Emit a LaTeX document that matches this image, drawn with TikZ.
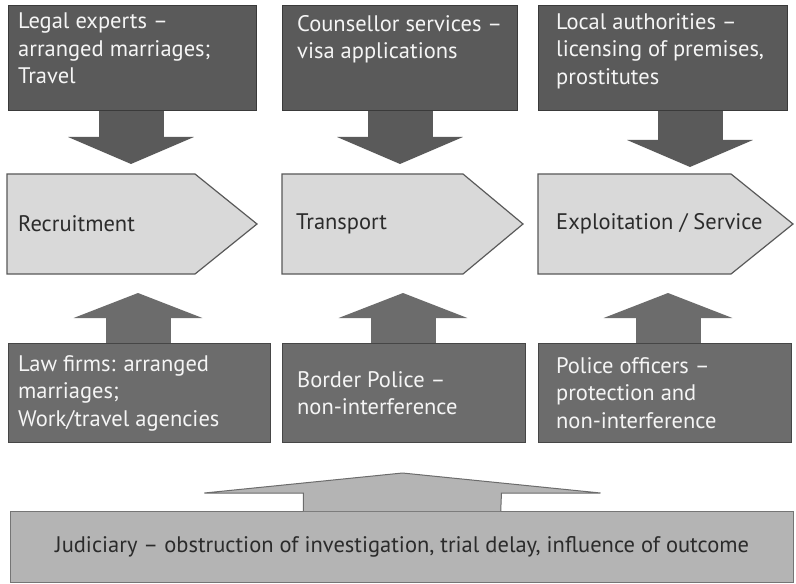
\documentclass[tikz,border=0pt]{standalone}
\usepackage{fontspec}
\setmainfont{PT Sans}
\usetikzlibrary{arrows.meta}

\definecolor{darkbox}{HTML}{5A5A5A}
\definecolor{midbox}{HTML}{6C6C6C}
\definecolor{stagefill}{HTML}{D9D9D9}
\definecolor{judfill}{HTML}{B4B4B4}
\definecolor{inktext}{HTML}{2B2B2B}

\newcommand{\boxfont}{\fontsize{22.5bp}{27.5bp}\selectfont}

\begin{document}
\begin{tikzpicture}[x=1bp, y=-1bp,
    box/.style={draw=#1!65!black, fill=#1, line width=1.2bp, inner sep=0pt, anchor=north west},
    stage/.style={draw=black!65, fill=stagefill, line width=1.2bp, line join=miter},
    whitetext/.style={text=white!96!black, align=left, inner sep=0pt, font=\boxfont},
    darktext/.style={text=inktext, align=left, inner sep=0pt, font=\boxfont},
    downarr/.style={darkbox, line width=65bp, -{Triangle[width=125bp, length=27bp]}},
    uparr/.style={midbox, line width=65bp, -{Triangle[width=128bp, length=25bp]}}
]
\useasboundingbox[fill=white] (0,0) rectangle (796,584);

% stages of the process
\draw[stage] (7,174) -- (195,174) -- (257,224) -- (195,274) -- (7,274) -- cycle;
\draw[stage] (282,174) -- (463,174) -- (523,224) -- (463,274) -- (282,274) -- cycle;
\draw[stage] (538,174) -- (731,174) -- (793,224) -- (731,274) -- (538,274) -- cycle;
\node[darktext, anchor=west] (recruit) at (18,224) {Recruitment};
\node[darktext, anchor=west] (transport) at (296,224) {Transport};
\node[darktext, anchor=west] (exploit) at (556,224) {Exploitation / Service};
\coordinate (recruitin) at (131,164);
\coordinate (transportin) at (400,164);
\coordinate (exploitin) at (690,167);
\coordinate (recruitout) at (138,293);
\coordinate (transportout) at (403,293);
\coordinate (exploitout) at (668,293);

% upper row
\node[box=darkbox, minimum width=248bp, minimum height=105bp] (legal) at (8,5) {};
\node[box=darkbox, minimum width=235bp, minimum height=105bp] (counsel) at (282,5) {};
\node[box=darkbox, minimum width=249bp, minimum height=105bp] (local) at (538,5) {};
\node[whitetext, anchor=north west] (legaltxt) at ([shift={(10,8)}]legal.north west)
    {Legal experts --\\arranged marriages;\\Travel};
\node[whitetext, anchor=north west] (counseltxt) at ([shift={(15,10)}]counsel.north west)
    {Counsellor services --\\visa applications};
\node[whitetext, anchor=north west] (localtxt) at ([shift={(18,8)}]local.north west)
    {Local authorities --\\licensing of premises,\\prostitutes};

\draw[downarr] (legal.south -| recruitin) -- (recruitin);
\draw[downarr] (counsel.south -| transportin) -- (transportin);
\draw[downarr] (local.south -| exploitin) -- (exploitin);

% lower row
\node[box=midbox, minimum width=262bp, minimum height=99bp] (lawfirms) at (8,343) {};
\node[box=midbox, minimum width=243bp, minimum height=99bp] (border) at (282,343) {};
\node[box=midbox, minimum width=253bp, minimum height=99bp] (police) at (538,343) {};
\node[whitetext, anchor=west] (lawfirmstxt) at ([xshift=10]lawfirms.west)
    {Law firms: arranged\\marriages;\\Work/travel agencies};
\node[whitetext, anchor=west] (bordertxt) at ([xshift=15]border.west)
    {Border Police --\\non-interference};
\node[whitetext, anchor=west] (policetxt) at ([xshift=18]police.west)
    {Police officers --\\protection and\\non-interference};

\draw[uparr] (lawfirms.north -| recruitout) -- (recruitout);
\draw[uparr] (border.north -| transportout) -- (transportout);
\draw[uparr] (police.north -| exploitout) -- (exploitout);

% judiciary across all stages
\node[box=judfill, minimum width=783bp, minimum height=71bp] (judiciary) at (10,511) {};
\node[darktext] (judtxt) at (judiciary.center)
    {Judiciary -- obstruction of investigation, trial delay, influence of outcome};
\draw[draw=judfill!60!black, fill=judfill, line width=1bp, line join=miter]
    ([xshift=-99]judiciary.north) -- ++(0,-18) -- ++(-99,0) -- ++(198,-20)
    -- ++(198,20) -- ++(-99,0) -- ([xshift=99]judiciary.north);
\end{tikzpicture}
\end{document}
